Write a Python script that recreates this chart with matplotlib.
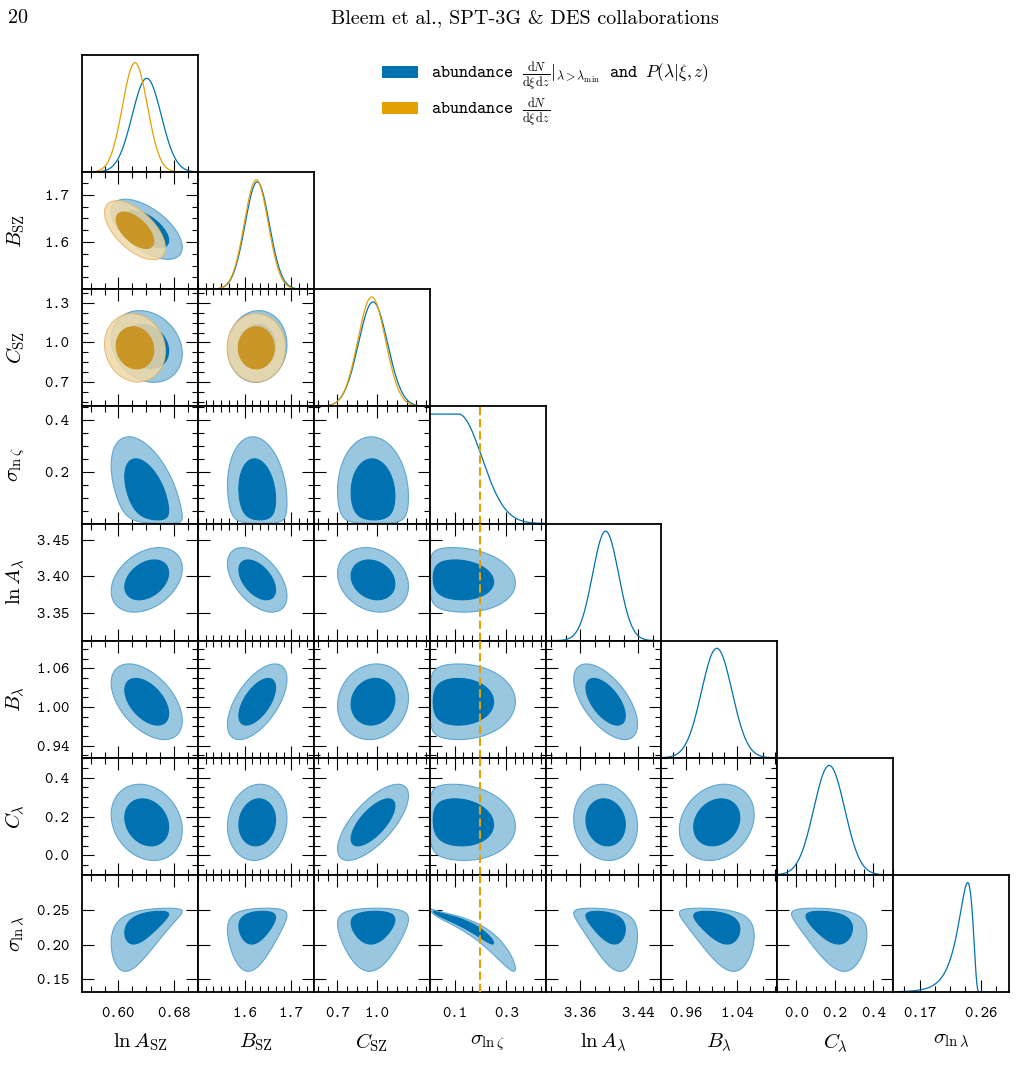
"""
Corner plot of SZ / richness scaling-relation posteriors (Bleem et al. style).
Contours are drawn from per-parameter means, widths and pairwise correlations
read off the published figure.
"""
import math

import numpy as np
import matplotlib
matplotlib.use("Agg")
import matplotlib.pyplot as plt
from matplotlib.patches import Patch

plt.rcParams["mathtext.fontset"] = "cm"
plt.rcParams["font.family"] = "cmr10"
plt.rcParams["axes.formatter.use_mathtext"] = True

BLUE = "#0072b2"
BLUE_LIGHT = "#99c7e0"
BLUE_EDGE = "#5fa6d2"
ORANGE = "#e69f00"
ORANGE_LIGHT = "#f0d9a8"
ORANGE_DARK = "#c99420"

# --- parameters --------------------------------------------------------------
labels = [r"$\ln A_{\rm SZ}$", r"$B_{\rm SZ}$", r"$C_{\rm SZ}$", r"$\sigma_{\ln\zeta}$",
          r"$\ln A_{\lambda}$", r"$B_{\lambda}$", r"$C_{\lambda}$", r"$\sigma_{\ln\lambda}$"]
lims = [(0.5474, 0.715), (1.50, 1.748), (0.52, 1.40), (0.003, 0.452),
        (3.312, 3.472), (0.921, 1.103), (-0.10, 0.502), (0.131, 0.302)]

xticks = [[0.60, 0.68], [1.6, 1.7], [0.7, 1.0], [0.1, 0.3],
          [3.36, 3.44], [0.96, 1.04], [0.0, 0.2, 0.4], [0.17, 0.26]]
xticklabels = [["0.60", "0.68"], ["1.6", "1.7"], ["0.7", "1.0"], ["0.1", "0.3"],
               ["3.36", "3.44"], ["0.96", "1.04"], ["0.0", "0.2", "0.4"], ["0.17", "0.26"]]
x_minor = [0.02, 0.1 / 6, 0.075, 0.2 / 6, 0.02, 0.02, 0.05, 0.0225]

yticks = [None, [1.6, 1.7], [0.7, 1.0, 1.3], [0.2, 0.4],
          [3.35, 3.40, 3.45], [0.94, 1.00, 1.06], [0.0, 0.2, 0.4], [0.15, 0.20, 0.25]]
yticklabels = [None, ["1.6", "1.7"], ["0.7", "1.0", "1.3"], ["0.2", "0.4"],
               ["3.35", "3.40", "3.45"], ["0.94", "1.00", "1.06"], ["0.0", "0.2", "0.4"],
               ["0.15", "0.20", "0.25"]]
y_minor = [None, 0.025, 0.075, 0.05, None, 0.015, 0.05, None]

# blue: full likelihood (abundance + P(lambda|xi,z))
mu_b = [0.641, 1.627, 0.97, 0.115, 3.395, 1.008, 0.17, 0.2343]
sd_b = [0.021, 0.026, 0.11, 0.09, 0.018, 0.024, 0.08, 0.01414]
kinds = ["lin", "lin", "lin", "flat", "lin", "lin", "lin", "skew"]
shape_par = [0, 0, 0, 0, 0, 0, 0, 0.55]
rho_b = [
    [],
    [-0.6],
    [-0.2, 0.05],
    [-0.5, -0.15, -0.05],
    [0.35, -0.5, -0.2, -0.1],
    [-0.5, 0.6, 0.1, 0.0, -0.6],
    [-0.2, 0.1, 0.7, -0.1, -0.1, 0.2],
    [0.6, 0.3, 0.1, -0.97, -0.45, -0.45, -0.4],
]

# orange: abundance only (first three parameters)
mu_o = [0.624, 1.625, 0.96]
sd_o = [0.018, 0.0255, 0.105]
rho_o = [[], [-0.6], [-0.1, 0.0]]

dashed_x = 0.2  # sigma_ln zeta reference line

R68, R95 = np.sqrt(-2 * np.log(0.32)), np.sqrt(-2 * np.log(0.05))
T = np.linspace(0, 2 * np.pi, 500)
erf = np.vectorize(math.erf)


def transform(k, u, mu, sd):
    """Map a standard-normal latent variable to parameter k (value, derivative)."""
    kind, a = kinds[k], shape_par[k]
    if kind == "skew":      # hard upper edge, long lower tail
        return mu + sd * (1 - np.exp(-a * u)) / a, sd * np.exp(-a * u)
    if kind == "flat":      # flat plateau below the mean, gaussian fall above
        half = sd * np.sqrt(np.pi / 2)
        x = np.where(u >= 0, mu + sd * u, mu + half * erf(u / np.sqrt(2)))
        dx = np.where(u >= 0, sd, sd * np.exp(-0.5 * u ** 2))
        return x, dx
    return mu + sd * u, sd * np.ones_like(u)


def ellipse(r, rho):
    return r * np.cos(T), r * (rho * np.cos(T) + np.sqrt(1 - rho ** 2) * np.sin(T))


def minor_ticks(lo, hi, base, step):
    k = np.arange(np.ceil((lo - base) / step - 1e-9), np.floor((hi - base) / step + 1e-9) + 1)
    return base + step * k


fig, axes = plt.subplots(8, 8, figsize=(10.19, 10.77), dpi=100)
fig.subplots_adjust(left=82 / 1019, right=1009 / 1019, top=1 - 55 / 1077,
                    bottom=1 - 992 / 1077, wspace=0, hspace=0)

n = len(labels)
for i in range(n):
    for j in range(n):
        ax = axes[i, j]
        if j > i:
            ax.remove()
            continue
        for s in ax.spines.values():
            s.set_linewidth(1.3)
        ax.set_xlim(*lims[j])
        ax.tick_params(which="both", direction="in", width=0.8,
                       labelsize=11.5, labelfontfamily="cmtt10")
        ax.tick_params(axis="x", pad=11)
        ax.tick_params(axis="y", pad=9)
        ax.tick_params(which="major", length=8.5)
        ax.tick_params(which="minor", length=4)
        ax.set_xticks(xticks[j])
        ax.set_xticks(minor_ticks(*lims[j], xticks[j][0], x_minor[j]), minor=True)
        if i == n - 1:
            ax.set_xticklabels(xticklabels[j])
            ax.set_xlabel(labels[j], fontsize=15)
            ax.xaxis.set_label_coords(0.5, -0.34)
        else:
            ax.tick_params(labelbottom=False)

        if i == j:
            # 1D marginal
            u = np.linspace(-6, 6, 1500)
            x, dx = transform(j, u, mu_b[j], sd_b[j])
            pb = np.exp(-0.5 * u ** 2) / np.sqrt(2 * np.pi) / dx
            top = pb.max()
            ax.plot(x, pb, color=BLUE, lw=0.9)
            if j < len(mu_o):
                xo, dxo = transform(j, u, mu_o[j], sd_o[j])
                po = np.exp(-0.5 * u ** 2) / np.sqrt(2 * np.pi) / dxo
                top = max(top, po.max())
                ax.plot(xo, po, color=ORANGE, lw=0.9)
            if j == 3:
                ax.axvline(dashed_x, color=ORANGE, lw=1.5, ls=(0, (4, 1.8)))
            ax.set_ylim(0, top * 1.07)
            ax.set_yticks([])
            ax.tick_params(which="both", top=False, right=False, left=False)
            continue

        # 2D marginal
        ax.set_ylim(*lims[i])
        ax.tick_params(which="both", top=True, right=True)
        ax.set_yticks(yticks[i])
        if y_minor[i] is not None:
            ax.set_yticks(minor_ticks(*lims[i], yticks[i][0], y_minor[i]), minor=True)
        if j == 0:
            ax.set_yticklabels(yticklabels[i])
            ax.set_ylabel(labels[i], fontsize=15)
            ax.yaxis.set_label_coords(-0.475, 0.5)
        else:
            ax.tick_params(labelleft=False)

        for r, face, edge in [(R95, BLUE_LIGHT, BLUE_EDGE), (R68, BLUE, BLUE)]:
            a, b = ellipse(r, rho_b[i][j])
            ax.fill(transform(j, a, mu_b[j], sd_b[j])[0], transform(i, b, mu_b[i], sd_b[i])[0],
                    facecolor=face, edgecolor=edge, lw=0.8, zorder=2)
        if i < len(mu_o):
            for r, face, edge, al in [(R95, ORANGE_LIGHT, "#e3b56a", 0.85),
                                      (R68, ORANGE_DARK, ORANGE_DARK, 0.95)]:
                a, b = ellipse(r, rho_o[i][j])
                ax.fill(transform(j, a, mu_o[j], sd_o[j])[0], transform(i, b, mu_o[i], sd_o[i])[0],
                        facecolor=face, edgecolor=edge, lw=0.8, alpha=al, zorder=3)
        if j == 3:
            ax.axvline(dashed_x, color=ORANGE, lw=1.5, ls=(0, (4, 1.8)), zorder=4)

# legend and page header
handles = [Patch(facecolor=BLUE), Patch(facecolor=ORANGE)]
leg_labels = [r"abundance $\frac{\mathrm{d}N}{\mathrm{d}\xi\,\mathrm{d}z}|_{\lambda>\lambda_{\rm min}}$"
              r" and $P(\lambda|\xi,z)$",
              r"abundance $\frac{\mathrm{d}N}{\mathrm{d}\xi\,\mathrm{d}z}$"]
fig.legend(handles, leg_labels, loc="upper left", bbox_to_anchor=(382 / 1019, 1 - 60 / 1077),
           frameon=False, prop={"family": "cmtt10", "size": 12.5}, borderpad=0,
           borderaxespad=0, handlelength=2.1, handleheight=0.75, handletextpad=0.75,
           labelspacing=0.25)

fig.text(8 / 1019, 1 - 18 / 1077, "20", fontsize=14.5, ha="left", va="center")
fig.text(525 / 1019, 1 - 18 / 1077, "Bleem et al., SPT-3G & DES collaborations",
         fontsize=14.5, ha="center", va="center")

fig.savefig("out.png", dpi=100)
